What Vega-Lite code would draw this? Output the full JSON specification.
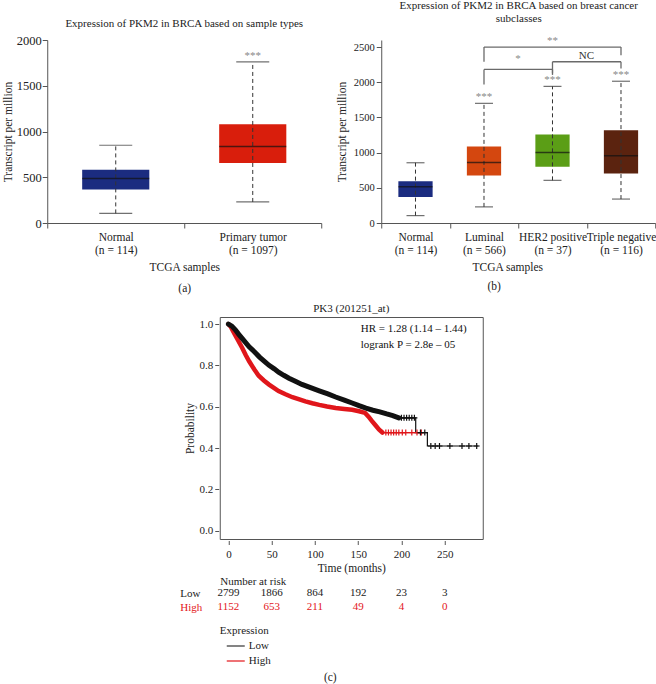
{
  "$schema": "https://vega.github.io/schema/vega-lite/v6.json",
  "padding": {"left": 2, "top": -1, "right": 0, "bottom": 0},
  "config": {
    "font": "Liberation Serif",
    "view": {"stroke": null},
    "axis": {"labelFontSize": 11, "titleFontSize": 11.5, "titleFontWeight": "normal", "labelColor": "#222", "titleColor": "#222", "domainColor": "#555", "tickColor": "#555", "grid": false, "labelOverlap": false},
    "title": {"fontSize": 11, "fontWeight": "normal", "color": "#222"},
    "legend": {"titleFontWeight": "normal", "titleColor": "#222", "labelColor": "#222"}
  },
  "datasets": {
    "boxA": [
      {"cat": "Normal|(n = 114)", "min": 105, "q1": 367, "med": 485, "q3": 583, "max": 850, "sig": ""},
      {"cat": "Primary tumor|(n = 1097)", "min": 230, "q1": 656, "med": 837, "q3": 1080, "max": 1760, "sig": "***"}
    ],
    "boxB": [
      {"cat": "Normal|(n = 114)", "min": 105, "q1": 371, "med": 514, "q3": 593, "max": 856, "sig": ""},
      {"cat": "Luminal|(n = 566)", "min": 229, "q1": 676, "med": 861, "q3": 1086, "max": 1700, "sig": "***"},
      {"cat": "HER2 positive|(n = 37)", "min": 606, "q1": 800, "med": 1000, "q3": 1259, "max": 1941, "sig": "***"},
      {"cat": "Triple negative|(n = 116)", "min": 340, "q1": 704, "med": 954, "q3": 1318, "max": 2014, "sig": "***"}
    ],
    "brackets": [
      {"label": "**", "a": "Luminal|(n = 566)", "b": "Triple negative|(n = 116)", "top": 2500, "ya": 2290, "yb": 2385},
      {"label": "*", "a": "Luminal|(n = 566)", "b": "HER2 positive|(n = 37)", "top": 2182, "ya": 1968, "yb": 2104},
      {"label": "NC", "a": "HER2 positive|(n = 37)", "b": "Triple negative|(n = 116)", "top": 2291, "ya": 2127, "yb": 2195}
    ],
    "km": [
      {"group": "High", "part": "dense", "t": 0, "p": 1.0},
      {"group": "High", "part": "dense", "t": 3, "p": 0.985},
      {"group": "High", "part": "dense", "t": 6.5, "p": 0.957},
      {"group": "High", "part": "dense", "t": 10, "p": 0.93},
      {"group": "High", "part": "dense", "t": 16, "p": 0.884},
      {"group": "High", "part": "dense", "t": 20, "p": 0.85},
      {"group": "High", "part": "dense", "t": 24, "p": 0.82},
      {"group": "High", "part": "dense", "t": 30, "p": 0.78},
      {"group": "High", "part": "dense", "t": 35, "p": 0.75},
      {"group": "High", "part": "dense", "t": 41, "p": 0.727},
      {"group": "High", "part": "dense", "t": 47, "p": 0.707},
      {"group": "High", "part": "dense", "t": 53, "p": 0.69},
      {"group": "High", "part": "dense", "t": 58, "p": 0.676},
      {"group": "High", "part": "dense", "t": 66, "p": 0.66},
      {"group": "High", "part": "dense", "t": 74, "p": 0.646},
      {"group": "High", "part": "dense", "t": 82, "p": 0.635},
      {"group": "High", "part": "dense", "t": 89, "p": 0.626},
      {"group": "High", "part": "dense", "t": 97, "p": 0.617},
      {"group": "High", "part": "dense", "t": 105, "p": 0.609},
      {"group": "High", "part": "dense", "t": 114, "p": 0.601},
      {"group": "High", "part": "dense", "t": 124, "p": 0.594},
      {"group": "High", "part": "dense", "t": 134, "p": 0.589},
      {"group": "High", "part": "dense", "t": 143, "p": 0.585},
      {"group": "High", "part": "dense", "t": 151, "p": 0.578},
      {"group": "High", "part": "dense", "t": 158, "p": 0.57},
      {"group": "High", "part": "dense", "t": 162, "p": 0.552},
      {"group": "High", "part": "dense", "t": 166, "p": 0.53},
      {"group": "High", "part": "dense", "t": 170, "p": 0.51},
      {"group": "High", "part": "dense", "t": 174, "p": 0.49},
      {"group": "High", "part": "dense", "t": 178, "p": 0.475},
      {"group": "High", "part": "tail", "t": 178, "p": 0.475},
      {"group": "High", "part": "tail", "t": 224, "p": 0.475},
      {"group": "Low", "part": "dense", "t": 0, "p": 1.0},
      {"group": "Low", "part": "dense", "t": 4, "p": 0.99},
      {"group": "Low", "part": "dense", "t": 8, "p": 0.972},
      {"group": "Low", "part": "dense", "t": 12, "p": 0.95},
      {"group": "Low", "part": "dense", "t": 18, "p": 0.92},
      {"group": "Low", "part": "dense", "t": 24, "p": 0.89},
      {"group": "Low", "part": "dense", "t": 30, "p": 0.866},
      {"group": "Low", "part": "dense", "t": 36, "p": 0.84},
      {"group": "Low", "part": "dense", "t": 42, "p": 0.818},
      {"group": "Low", "part": "dense", "t": 47, "p": 0.8},
      {"group": "Low", "part": "dense", "t": 53, "p": 0.783},
      {"group": "Low", "part": "dense", "t": 58, "p": 0.767},
      {"group": "Low", "part": "dense", "t": 64, "p": 0.752},
      {"group": "Low", "part": "dense", "t": 70, "p": 0.738},
      {"group": "Low", "part": "dense", "t": 78, "p": 0.722},
      {"group": "Low", "part": "dense", "t": 85, "p": 0.708},
      {"group": "Low", "part": "dense", "t": 95, "p": 0.692},
      {"group": "Low", "part": "dense", "t": 105, "p": 0.677},
      {"group": "Low", "part": "dense", "t": 115, "p": 0.662},
      {"group": "Low", "part": "dense", "t": 124, "p": 0.647},
      {"group": "Low", "part": "dense", "t": 134, "p": 0.632},
      {"group": "Low", "part": "dense", "t": 143, "p": 0.618},
      {"group": "Low", "part": "dense", "t": 151, "p": 0.605},
      {"group": "Low", "part": "dense", "t": 159, "p": 0.593},
      {"group": "Low", "part": "dense", "t": 167, "p": 0.583},
      {"group": "Low", "part": "dense", "t": 175, "p": 0.575},
      {"group": "Low", "part": "dense", "t": 183, "p": 0.565},
      {"group": "Low", "part": "dense", "t": 190, "p": 0.557},
      {"group": "Low", "part": "dense", "t": 197, "p": 0.546},
      {"group": "Low", "part": "tail", "t": 197, "p": 0.546},
      {"group": "Low", "part": "tail", "t": 216.5, "p": 0.475},
      {"group": "Low", "part": "tail", "t": 230, "p": 0.41},
      {"group": "Low", "part": "tail", "t": 289, "p": 0.41}
    ],
    "censor": [
      {"group": "High", "t": 182, "p": 0.475}, {"group": "High", "t": 185, "p": 0.475}, {"group": "High", "t": 188, "p": 0.475},
      {"group": "High", "t": 191, "p": 0.475}, {"group": "High", "t": 194, "p": 0.475}, {"group": "High", "t": 197, "p": 0.475},
      {"group": "High", "t": 201, "p": 0.475}, {"group": "High", "t": 205, "p": 0.475}, {"group": "High", "t": 212, "p": 0.475},
      {"group": "High", "t": 218, "p": 0.475}, {"group": "High", "t": 223, "p": 0.475},
      {"group": "Low", "t": 200, "p": 0.546}, {"group": "Low", "t": 203, "p": 0.546}, {"group": "Low", "t": 206, "p": 0.546},
      {"group": "Low", "t": 209, "p": 0.546}, {"group": "Low", "t": 212, "p": 0.546}, {"group": "Low", "t": 215, "p": 0.546},
      {"group": "Low", "t": 222, "p": 0.475}, {"group": "Low", "t": 227, "p": 0.475},
      {"group": "Low", "t": 234, "p": 0.41}, {"group": "Low", "t": 239, "p": 0.41}, {"group": "Low", "t": 244, "p": 0.41},
      {"group": "Low", "t": 256, "p": 0.41}, {"group": "Low", "t": 270, "p": 0.41}, {"group": "Low", "t": 278, "p": 0.41},
      {"group": "Low", "t": 287, "p": 0.41}
    ],
    "kmtext": [
      {"t": 153, "p": 0.976, "label": "HR = 1.28 (1.14 – 1.44)"},
      {"t": 153, "p": 0.899, "label": "logrank P = 2.8e – 05"}
    ],
    "risk": [
      {"group": "Low", "t": 0, "n": 2799}, {"group": "Low", "t": 50, "n": 1866}, {"group": "Low", "t": 100, "n": 864},
      {"group": "Low", "t": 150, "n": 192}, {"group": "Low", "t": 200, "n": 23}, {"group": "Low", "t": 250, "n": 3},
      {"group": "High", "t": 0, "n": 1152}, {"group": "High", "t": 50, "n": 653}, {"group": "High", "t": 100, "n": 211},
      {"group": "High", "t": 150, "n": 49}, {"group": "High", "t": 200, "n": 4}, {"group": "High", "t": 250, "n": 0}
    ]
  },
  "resolve": {"scale": {"color": "independent"}},
  "center": true,
  "spacing": 8,
  "vconcat": [
    {
      "hconcat": [
        {
          "width": 274, "height": 183,
          "title": {"text": "Expression of PKM2 in BRCA based on sample types", "offset": 5, "fontSize": 11},
          "data": {"name": "boxA"},
          "encoding": {
            "x": {"field": "cat", "type": "nominal",
              "scale": {"domain": ["Normal|(n = 114)", "Primary tumor|(n = 1097)"], "paddingInner": 0, "paddingOuter": 0},
              "axis": {"title": ["TCGA samples", "(a)"], "titleLineHeight": 21, "labelExpr": "split(datum.label, '|')", "labelLineHeight": 13.5, "labelAngle": 0, "tickBand": "extent", "tickSize": 5, "labelPadding": 3, "titlePadding": 5, "labelFontSize": 11.5}}
          },
          "layer": [
            {"mark": {"type": "bar", "width": {"band": 0.49}},
             "encoding": {
               "y": {"field": "q1", "type": "quantitative", "scale": {"domain": [0, 2000]}, "axis": {"title": "Transcript per million", "values": [0, 500, 1000, 1500, 2000], "format": "d", "labelOverlap": false, "tickSize": 5, "labelPadding": 1, "labelFontSize": 12.5, "titlePadding": 3}},
               "y2": {"field": "q3"},
               "color": {"field": "cat", "type": "nominal", "scale": {"domain": ["Normal|(n = 114)", "Primary tumor|(n = 1097)"], "range": ["#1b2c80", "#d91e0c"]}, "legend": null}
             }},
            {"mark": {"type": "rule", "strokeDash": [4, 3], "color": "#333", "strokeWidth": 1}, "encoding": {"y": {"field": "min", "type": "quantitative"}, "y2": {"field": "max"}}},
            {"mark": {"type": "tick", "size": 67, "thickness": 1.5, "color": "#111"}, "encoding": {"y": {"field": "med", "type": "quantitative"}}},
            {"mark": {"type": "tick", "size": 33, "thickness": 1.2, "color": "#333"}, "encoding": {"y": {"field": "min", "type": "quantitative"}}},
            {"mark": {"type": "tick", "size": 33, "thickness": 1.2, "color": "#333"}, "encoding": {"y": {"field": "max", "type": "quantitative"}}},
            {"mark": {"type": "text", "baseline": "bottom", "dy": -1, "fontSize": 11, "color": "#888"}, "encoding": {"y": {"field": "max", "type": "quantitative"}, "text": {"field": "sig"}}}
          ]
        },
        {
          "width": 274, "height": 183,
          "title": {"text": "(b)", "orient": "bottom", "offset": 8, "dx": -24, "fontSize": 11.5},
          "resolve": {"axis": {"x": "independent"}},
          "layer": [
            {"data": {"name": "boxB"}, "mark": {"type": "bar", "width": {"band": 0.5}},
             "encoding": {
               "x": {"field": "cat", "type": "nominal",
                 "scale": {"domain": ["Normal|(n = 114)", "Luminal|(n = 566)", "HER2 positive|(n = 37)", "Triple negative|(n = 116)"], "paddingInner": 0, "paddingOuter": 0},
                 "axis": {"title": "TCGA samples", "titleX": 126, "labelExpr": "split(datum.label, '|')", "labelLineHeight": 13.5, "labelAngle": 0, "tickBand": "extent", "tickSize": 5, "labelPadding": 3, "titlePadding": 5, "labelFontSize": 11.5}},
               "y": {"field": "q1", "type": "quantitative", "scale": {"domain": [0, 2500]}, "axis": {"title": "Transcript per million", "values": [0, 500, 1000, 1500, 2000, 2500], "format": "d", "labelOverlap": false, "tickSize": 5, "labelPadding": 2, "labelFontSize": 10.5, "titlePadding": 6}},
               "y2": {"field": "q3"},
               "color": {"field": "cat", "type": "nominal", "scale": {"domain": ["Normal|(n = 114)", "Luminal|(n = 566)", "HER2 positive|(n = 37)", "Triple negative|(n = 116)"], "range": ["#1b2c80", "#d4470f", "#5b9e16", "#5b230f"]}, "legend": null}
             }},
            {"data": {"name": "boxB"}, "mark": {"type": "rule", "strokeDash": [4, 3], "color": "#333", "strokeWidth": 1},
             "encoding": {"x": {"field": "cat", "type": "nominal", "axis": null},
               "y": {"field": "min", "type": "quantitative", "axis": {"title": "Transcript per million", "values": [0, 500, 1000, 1500, 2000, 2500], "format": "d", "labelOverlap": false, "tickSize": 5, "labelPadding": 2, "labelFontSize": 10.5, "titlePadding": 6}}, "y2": {"field": "max"}}},
            {"data": {"name": "boxB"}, "mark": {"type": "tick", "size": 34, "thickness": 1.5, "color": "#111"},
             "encoding": {"x": {"field": "cat", "type": "nominal", "axis": null},
               "y": {"field": "med", "type": "quantitative", "axis": {"title": "Transcript per million", "values": [0, 500, 1000, 1500, 2000, 2500], "format": "d", "labelOverlap": false, "tickSize": 5, "labelPadding": 2, "labelFontSize": 10.5, "titlePadding": 6}}}},
            {"data": {"name": "boxB"}, "mark": {"type": "tick", "size": 18, "thickness": 1.2, "color": "#333"},
             "encoding": {"x": {"field": "cat", "type": "nominal", "axis": null},
               "y": {"field": "min", "type": "quantitative", "axis": {"title": "Transcript per million", "values": [0, 500, 1000, 1500, 2000, 2500], "format": "d", "labelOverlap": false, "tickSize": 5, "labelPadding": 2, "labelFontSize": 10.5, "titlePadding": 6}}}},
            {"data": {"name": "boxB"}, "mark": {"type": "tick", "size": 18, "thickness": 1.2, "color": "#333"},
             "encoding": {"x": {"field": "cat", "type": "nominal", "axis": null},
               "y": {"field": "max", "type": "quantitative", "axis": {"title": "Transcript per million", "values": [0, 500, 1000, 1500, 2000, 2500], "format": "d", "labelOverlap": false, "tickSize": 5, "labelPadding": 2, "labelFontSize": 10.5, "titlePadding": 6}}}},
            {"data": {"name": "boxB"}, "mark": {"type": "text", "baseline": "bottom", "dy": -1, "fontSize": 11, "color": "#888"},
             "encoding": {"x": {"field": "cat", "type": "nominal", "axis": null},
               "y": {"field": "max", "type": "quantitative", "axis": {"title": "Transcript per million", "values": [0, 500, 1000, 1500, 2000, 2500], "format": "d", "labelOverlap": false, "tickSize": 5, "labelPadding": 2, "labelFontSize": 10.5, "titlePadding": 6}}, "text": {"field": "sig"}}},
            {"data": {"name": "brackets"}, "mark": {"type": "rule", "color": "#6a6a6a", "strokeWidth": 1.3},
             "encoding": {"x": {"field": "a", "type": "nominal", "axis": null}, "x2": {"field": "b"},
               "y": {"field": "top", "type": "quantitative", "axis": {"title": "Transcript per million", "values": [0, 500, 1000, 1500, 2000, 2500], "format": "d", "labelOverlap": false, "tickSize": 5, "labelPadding": 2, "labelFontSize": 10.5, "titlePadding": 6}}}},
            {"data": {"name": "brackets"}, "mark": {"type": "rule", "color": "#6a6a6a", "strokeWidth": 1.3},
             "encoding": {"x": {"field": "a", "type": "nominal", "axis": null},
               "y": {"field": "top", "type": "quantitative", "axis": {"title": "Transcript per million", "values": [0, 500, 1000, 1500, 2000, 2500], "format": "d", "labelOverlap": false, "tickSize": 5, "labelPadding": 2, "labelFontSize": 10.5, "titlePadding": 6}}, "y2": {"field": "ya"}}},
            {"data": {"name": "brackets"}, "mark": {"type": "rule", "color": "#6a6a6a", "strokeWidth": 1.3},
             "encoding": {"x": {"field": "b", "type": "nominal", "axis": null},
               "y": {"field": "top", "type": "quantitative", "axis": {"title": "Transcript per million", "values": [0, 500, 1000, 1500, 2000, 2500], "format": "d", "labelOverlap": false, "tickSize": 5, "labelPadding": 2, "labelFontSize": 10.5, "titlePadding": 6}}, "y2": {"field": "yb"}}},
            {"data": {"name": "brackets"}, "transform": [{"filter": "datum.label === '**'"}],
             "mark": {"type": "text", "baseline": "bottom", "dx": 68.5, "dy": -1, "fontSize": 11, "color": "#8a8a8a"},
             "encoding": {"x": {"field": "a", "type": "nominal",
               "axis": {"orient": "top", "title": ["Expression of PKM2 in BRCA based on breast cancer", "subclasses"], "labels": false, "ticks": false, "domain": false, "titlePadding": 17, "titleFontSize": 11, "titleLineHeight": 13}},
               "y": {"field": "top", "type": "quantitative", "axis": {"title": "Transcript per million", "values": [0, 500, 1000, 1500, 2000, 2500], "format": "d", "labelOverlap": false, "tickSize": 5, "labelPadding": 2, "labelFontSize": 10.5, "titlePadding": 6}}, "text": {"field": "label"}}},
            {"data": {"name": "brackets"}, "transform": [{"filter": "datum.label === '*'"}],
             "mark": {"type": "text", "baseline": "bottom", "dx": 34, "dy": -5, "fontSize": 11, "color": "#8a8a8a"},
             "encoding": {"x": {"field": "a", "type": "nominal", "axis": null},
               "y": {"field": "top", "type": "quantitative", "axis": {"title": "Transcript per million", "values": [0, 500, 1000, 1500, 2000, 2500], "format": "d", "labelOverlap": false, "tickSize": 5, "labelPadding": 2, "labelFontSize": 10.5, "titlePadding": 6}}, "text": {"field": "label"}}},
            {"data": {"name": "brackets"}, "transform": [{"filter": "datum.label === 'NC'"}],
             "mark": {"type": "text", "baseline": "bottom", "dx": 34, "dy": -1, "fontSize": 11, "color": "#333"},
             "encoding": {"x": {"field": "a", "type": "nominal", "axis": null},
               "y": {"field": "top", "type": "quantitative", "axis": {"title": "Transcript per million", "values": [0, 500, 1000, 1500, 2000, 2500], "format": "d", "labelOverlap": false, "tickSize": 5, "labelPadding": 2, "labelFontSize": 10.5, "titlePadding": 6}}, "text": {"field": "label"}}}
          ]
        }
      ],
      "spacing": 14,
      "resolve": {"scale": {"color": "independent"}}
    },
    {
      "vconcat": [
        {
          "width": 263, "height": 222,
          "view": {"stroke": "#555", "strokeWidth": 1},
          "title": {"text": "PK3 (201251_at)", "offset": 0, "fontSize": 11},
          "encoding": {
            "x": {"field": "t", "type": "quantitative", "scale": {"domain": [-10, 294], "nice": false, "zero": false},
              "axis": {"values": [0, 50, 100, 150, 200, 250], "title": "Time (months)", "domain": false, "offset": 1.5, "tickSize": 4, "labelPadding": 4, "titlePadding": 3}},
            "y": {"field": "p", "type": "quantitative", "scale": {"domain": [-0.04, 1.034], "nice": false, "zero": false},
              "axis": {"values": [0, 0.2, 0.4, 0.6, 0.8, 1.0], "format": ".1f", "title": "Probability", "domain": false, "offset": 1, "tickSize": 4, "labelPadding": 2, "titlePadding": 4}}
          },
          "layer": [
            {"data": {"name": "km"}, "transform": [{"filter": "datum.group === 'High' && datum.part === 'dense'"}],
             "mark": {"type": "line", "strokeWidth": 4.5, "strokeCap": "round"},
             "encoding": {"color": {"field": "group", "type": "nominal", "scale": {"domain": ["Low", "High"], "range": ["#111111", "#e0161b"]}, "legend": null}}},
            {"data": {"name": "km"}, "transform": [{"filter": "datum.group === 'High' && datum.part === 'tail'"}],
             "mark": {"type": "line", "strokeWidth": 1.2, "interpolate": "step-after"},
             "encoding": {"color": {"field": "group", "type": "nominal", "legend": null}}},
            {"data": {"name": "km"}, "transform": [{"filter": "datum.group === 'Low' && datum.part === 'dense'"}],
             "mark": {"type": "line", "strokeWidth": 5, "strokeCap": "round"},
             "encoding": {"color": {"field": "group", "type": "nominal", "legend": null}}},
            {"data": {"name": "km"}, "transform": [{"filter": "datum.group === 'Low' && datum.part === 'tail'"}],
             "mark": {"type": "line", "strokeWidth": 1.2, "interpolate": "step-after"},
             "encoding": {"color": {"field": "group", "type": "nominal", "legend": null}}},
            {"data": {"name": "censor"},
             "mark": {"type": "point", "shape": "M-1,0L1,0M0,-1L0,1", "filled": false, "size": 36, "strokeWidth": 1.2, "opacity": 1},
             "encoding": {"color": {"field": "group", "type": "nominal", "legend": null}}},
            {"data": {"name": "kmtext"},
             "mark": {"type": "text", "align": "left", "baseline": "middle", "fontSize": 11, "color": "#111"},
             "encoding": {"text": {"field": "label"}}}
          ]
        },
        {
          "width": 263, "height": 28,
          "data": {"name": "risk"},
          "title": {"text": "(c)", "orient": "bottom", "offset": 6, "dx": -21, "fontSize": 11.5},
          "mark": {"type": "text", "fontSize": 11, "baseline": "middle"},
          "encoding": {
            "x": {"field": "t", "type": "quantitative", "scale": {"domain": [-10, 294], "nice": false, "zero": false},
              "axis": {"orient": "top", "title": "Number at risk", "titleAnchor": "start", "labels": false, "ticks": false, "domain": false, "titlePadding": 0, "titleFontSize": 11}},
            "y": {"field": "group", "type": "nominal", "scale": {"domain": ["Low", "High"]},
              "axis": {"title": null, "domain": false, "ticks": false, "tickSize": 0, "labelAlign": "left", "labelPadding": 40, "labelFontSize": 11,
                "labelColor": {"condition": {"test": "datum.value === 'High'", "value": "#e3151a"}, "value": "#222"}}},
            "color": {"field": "group", "type": "nominal", "scale": {"domain": ["Low", "High"], "range": ["#222222", "#e3151a"]},
              "legend": {"title": "Expression", "orient": "bottom", "direction": "vertical", "symbolType": "stroke", "symbolSize": 90, "symbolStrokeWidth": 1.2,
                "offset": 11, "labelFontSize": 11, "titleFontSize": 11, "titlePadding": 0, "rowPadding": 0, "labelOffset": 9,
                "encode": {"symbols": {"update": {"stroke": {"signal": "datum.value === 'High' ? '#e3151a' : '#333'"}, "size": {"value": 324}, "x": {"value": 16}}}}}},
            "text": {"field": "n", "type": "quantitative", "format": "d"}
          }
        }
      ],
      "spacing": 0,
      "resolve": {"scale": {"color": "independent"}}
    }
  ]
}
